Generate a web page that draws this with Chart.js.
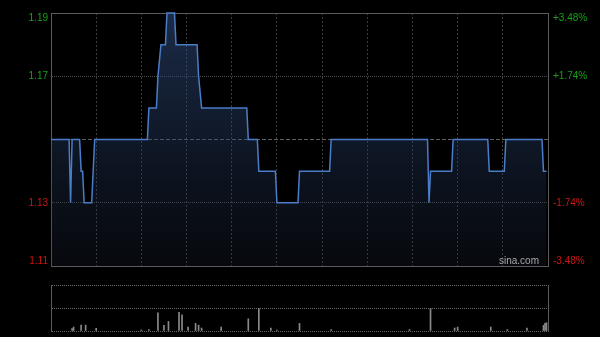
<!DOCTYPE html>
<html><head><meta charset="utf-8">
<script src="https://cdn.jsdelivr.net/npm/chart.js@4/dist/chart.umd.min.js"></script>
<style>
html,body{margin:0;padding:0;background:#000;}
#wrap{position:relative;width:600px;height:337px;overflow:hidden;background:#000;}
canvas{position:absolute;left:0;top:0;}
#wm{position:absolute;left:499px;top:255px;font:10px "Liberation Sans",Arial,sans-serif;color:#a8a8a8;white-space:nowrap;}
</style></head><body>
<div id="wrap">
<canvas id="price" width="600" height="337"></canvas>
<canvas id="vol" width="600" height="337"></canvas>
<div id="wm">sina.com</div>
</div>
<script>
// ---- data (minute index from 09:30, HK session 330 minutes) ----
const minutes = [0,12,13,14,19,20,21,22,27,29,64,65,70,71,73,76,77,82,83,97,98,99,100,130,131,137,138,149,150,164,165,185,186,250,251,252,266,267,290,291,301,302,326,327,329];
const prices  = [1.15,1.15,1.13,1.15,1.15,1.14,1.14,1.13,1.13,1.15,1.15,1.16,1.16,1.17,1.18,1.18,1.19,1.19,1.18,1.18,1.17,1.165,1.16,1.16,1.15,1.15,1.14,1.14,1.13,1.13,1.14,1.14,1.15,1.15,1.13,1.14,1.14,1.15,1.15,1.14,1.14,1.15,1.15,1.14,1.14];
const prevClose = 1.15;
const priceTicks = [1.11,1.13,1.15,1.17,1.19];
const leftLabels = ['1.11','1.13','','1.17','1.19'];
const rightLabels = ['-3.48%','-1.74%','','+1.74%','+3.48%'];
const timeTicks = [0,30,60,90,120,150,180,210,240,270,300,330];
const volMinutes = [14,15,20,23,30,60,65,71,75,78,85,87,91,96,98,100,113,131,138,146,150,165,186,238,252,268,270,292,303,316,327,328,329];
const volumes    = [20,34,51,51,23,9,12,158,49,83,163,140,34,66,51,26,34,106,195,26,9,66,12,12,195,26,34,34,12,26,49,66,72];
const volTicks = [0,200,400];

const BORDER = '#5a5a5a';
const GREEN = '#19a019', RED = '#cc1414';
Chart.defaults.font.family = '"Liberation Sans", Arial, sans-serif';
Chart.defaults.font.size = 10;

const yMin = priceTicks[0], yMax = priceTicks[priceTicks.length-1];
const tMin = timeTicks[0], tMax = timeTicks[timeTicks.length-1];

function fixWidth(w){ return function(s){ s.width = w; s.paddingTop = 0; s.paddingBottom = 0; }; }
function setTicks(arr){ return function(s){ s.ticks = arr.map(v => ({value: v})); }; }
function shiftLabel(arr){
  return function(v, i){
    const t = arr[i];
    if (i === arr.length-1) return ['', t];
    if (i === 0) return [t, ''];
    return t;
  };
}

new Chart(document.getElementById('price'), {
  type: 'line',
  data: { datasets: [{
    data: minutes.map((m,i) => ({x: m, y: prices[i]})),
    borderColor: '#4b7cc8', borderWidth: 1.5, pointRadius: 0, tension: 0,
    fill: 'start', clip: false,
    backgroundColor: (c) => {
      const a = c.chart.chartArea; if (!a) return 'rgba(0,0,0,0)';
      const g = c.chart.ctx.createLinearGradient(0, a.top, 0, a.bottom);
      g.addColorStop(0, 'rgba(52,84,138,0.52)');
      g.addColorStop(0.5, 'rgba(40,64,106,0.38)');
      g.addColorStop(1, 'rgba(30,40,60,0.22)');
      return g;
    }
  }]},
  options: {
    responsive: false, animation: false, devicePixelRatio: 1,
    layout: { padding: { top: 13, bottom: 71, left: 0, right: 0 } },
    plugins: { legend: { display: false }, tooltip: { enabled: false } },
    scales: {
      x: {
        type: 'linear', min: tMin, max: tMax, position: 'bottom', offset: false,
        afterBuildTicks: setTicks(timeTicks),
        afterFit: (s) => { s.height = 0; },
        ticks: { display: false },
        grid: {
          drawTicks: false,
          color: (c) => (c.tick && (c.tick.value === tMin || c.tick.value === tMax)) ? BORDER : '#3c3c3c'
        },
        border: { display: true, color: BORDER, width: 1,
          dash: (c) => (c.tick && (c.tick.value === tMin || c.tick.value === tMax)) ? [] : [2,2] }
      },
      y: {
        type: 'linear', min: yMin, max: yMax, position: 'left',
        afterBuildTicks: setTicks(priceTicks),
        afterFit: fixWidth(51),
        ticks: {
          autoSkip: false, padding: 3,
          font: { size: 10, lineHeight: 0.95 },
          color: (c) => c.tick && c.tick.value > prevClose ? GREEN : RED,
          callback: shiftLabel(leftLabels)
        },
        grid: {
          drawTicks: false,
          color: (c) => {
            const v = c.tick && c.tick.value;
            if (v === yMin || v === yMax) return BORDER;
            if (v === prevClose) return '#5e5e5e';
            return '#4a4a4a';
          }
        },
        border: { display: true, color: BORDER, width: 1,
          dash: (c) => {
            const v = c.tick && c.tick.value;
            if (v === yMin || v === yMax) return [];
            if (v === prevClose) return [4,2];
            return [1,1];
          } }
      },
      y2: {
        type: 'linear', min: yMin, max: yMax, position: 'right',
        afterBuildTicks: setTicks(priceTicks),
        afterFit: fixWidth(52),
        ticks: {
          autoSkip: false, padding: 5,
          font: { size: 10, lineHeight: 0.95 },
          color: (c) => c.tick && c.tick.value > prevClose ? GREEN : RED,
          callback: shiftLabel(rightLabels)
        },
        grid: { drawOnChartArea: false, drawTicks: false },
        border: { display: true, color: BORDER, width: 1 }
      }
    }
  }
});

new Chart(document.getElementById('vol'), {
  type: 'bar',
  data: { datasets: [{
    data: volMinutes.map((m,i) => ({x: m, y: volumes[i]})),
    backgroundColor: '#8a8a8a', borderWidth: 0, barThickness: 1
  }]},
  options: {
    responsive: false, animation: false, devicePixelRatio: 1,
    layout: { padding: { top: 285, bottom: 6, left: 0, right: 0 } },
    plugins: { legend: { display: false }, tooltip: { enabled: false } },
    scales: {
      x: { type: 'linear', min: tMin, max: tMax, offset: false, display: false },
      y: {
        type: 'linear', min: volTicks[0], max: volTicks[volTicks.length-1], position: 'left',
        afterBuildTicks: setTicks(volTicks),
        afterFit: fixWidth(51),
        ticks: { display: false },
        grid: { drawTicks: false, color: '#6a6a6a' },
        border: { display: true, color: BORDER, width: 1, dash: [1,1] }
      },
      y2: {
        type: 'linear', min: 0, max: 1, position: 'right',
        afterFit: fixWidth(52),
        ticks: { display: false },
        grid: { drawOnChartArea: false, drawTicks: false },
        border: { display: true, color: BORDER, width: 1 }
      }
    }
  }
});
</script>
</body></html>
